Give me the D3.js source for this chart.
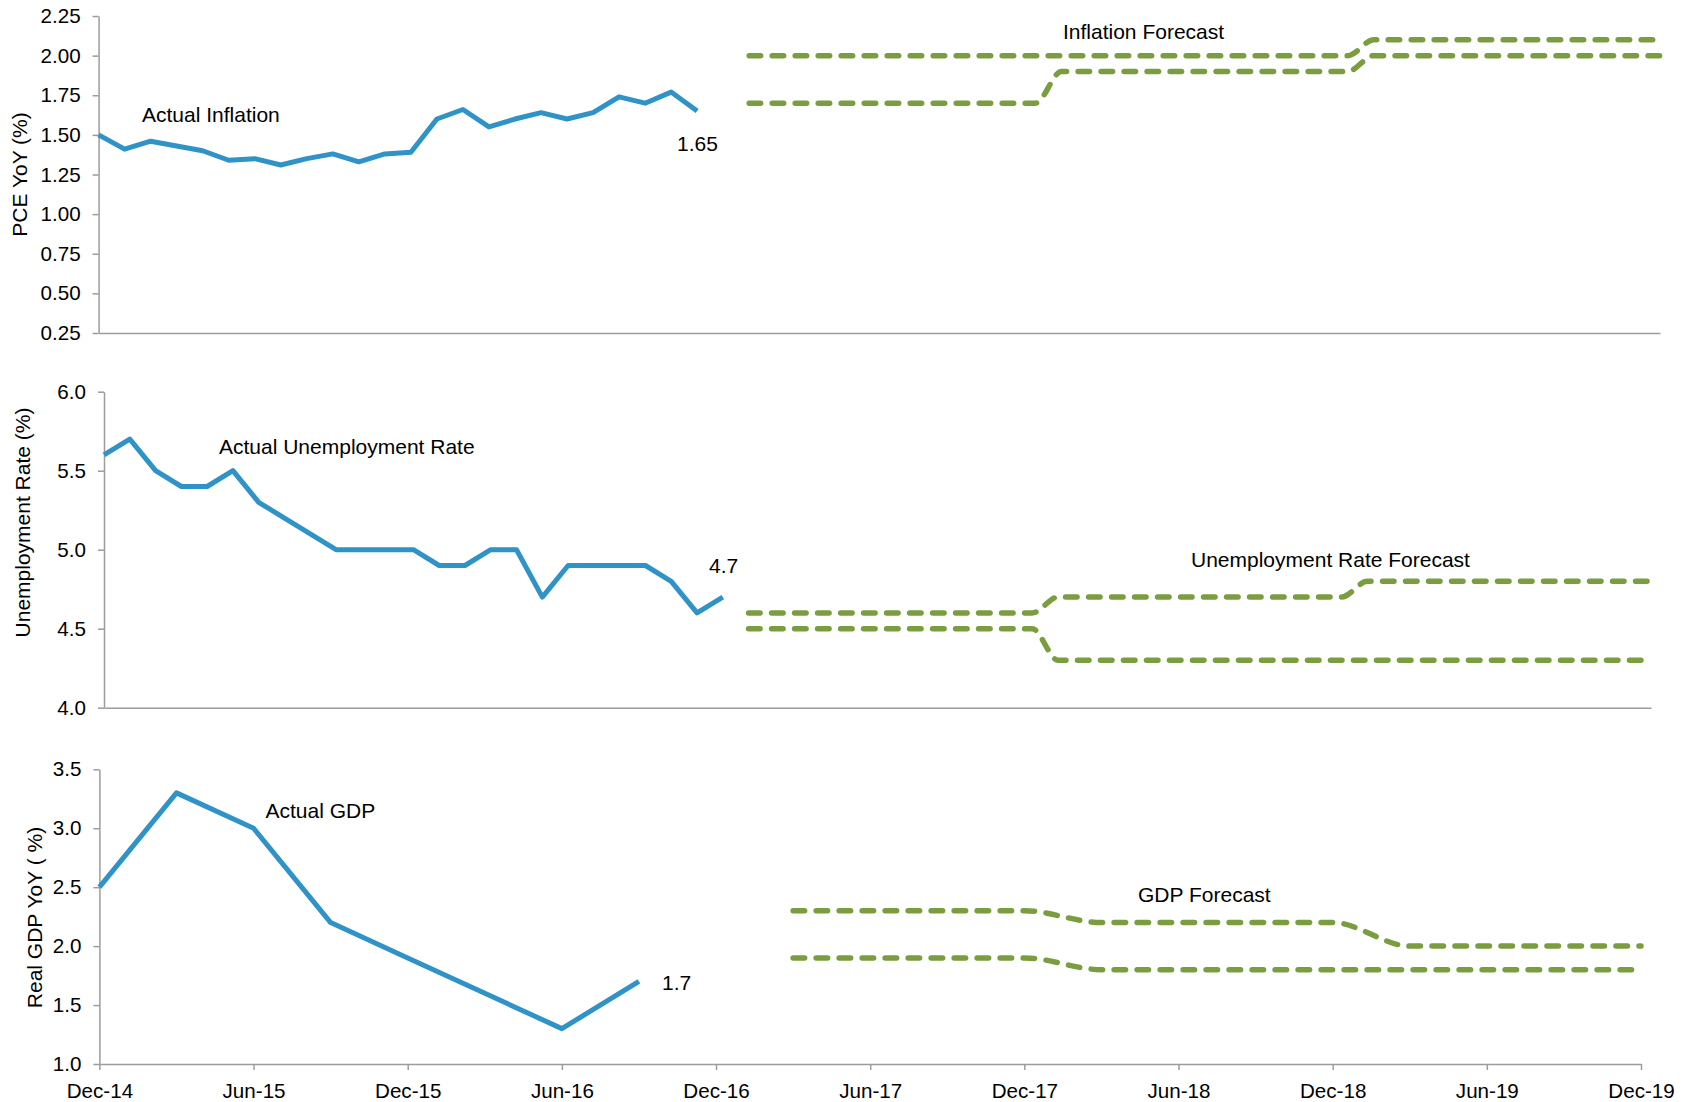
<!DOCTYPE html>
<html><head><meta charset="utf-8">
<script src="https://cdn.jsdelivr.net/npm/d3@7"></script>
<style>
body{margin:0;background:#fff;}
svg{display:block;font-family:"Liberation Sans",Arial,sans-serif;}
</style></head><body><svg id="c" width="1696" height="1102"></svg>
<script>
// ---------- DATA ----------
const inflationMonths = ["Dec-14","Jan-15","Feb-15","Mar-15","Apr-15","May-15","Jun-15","Jul-15","Aug-15","Sep-15","Oct-15","Nov-15",
  "Dec-15","Jan-16","Feb-16","Mar-16","Apr-16","May-16","Jun-16","Jul-16","Aug-16","Sep-16","Oct-16","Nov-16"];
const inflationActual = [1.50,1.41,1.46,1.43,1.40,1.34,1.35,1.31,1.35,1.38,1.33,1.38,
  1.39,1.60,1.66,1.55,1.60,1.64,1.60,1.64,1.74,1.70,1.77,1.65];

const unempMonths = ["Dec-14","Jan-15","Feb-15","Mar-15","Apr-15","May-15","Jun-15","Jul-15","Aug-15","Sep-15","Oct-15","Nov-15",
  "Dec-15","Jan-16","Feb-16","Mar-16","Apr-16","May-16","Jun-16","Jul-16","Aug-16","Sep-16","Oct-16","Nov-16","Dec-16"];
const unempActual = [5.6,5.7,5.5,5.4,5.4,5.5,5.3,5.2,5.1,5.0,5.0,5.0,
  5.0,4.9,4.9,5.0,5.0,4.7,4.9,4.9,4.9,4.9,4.8,4.6,4.7];

const gdpQuarters = ["Dec-14","Mar-15","Jun-15","Sep-15","Dec-15","Mar-16","Jun-16","Sep-16"];
const gdpActual = [2.5,3.3,3.0,2.2,1.9,1.6,1.3,1.7];

// forecasts: monthly from Jan-17 to Dec-19
const forecastMonthStart = "Jan-17";
const inflationForecastHigh = [2.0,2.0,2.0,2.0,2.0,2.0,2.0,2.0,2.0,2.0,2.0,2.0,
  2.0,2.0,2.0,2.0,2.0,2.0,2.0,2.0,2.0,2.0,2.0,2.0,
  2.1,2.1,2.1,2.1,2.1,2.1,2.1,2.1,2.1,2.1,2.1,2.1];
const inflationForecastLow = [1.7,1.7,1.7,1.7,1.7,1.7,1.7,1.7,1.7,1.7,1.7,1.7,
  1.9,1.9,1.9,1.9,1.9,1.9,1.9,1.9,1.9,1.9,1.9,1.9,
  2.0,2.0,2.0,2.0,2.0,2.0,2.0,2.0,2.0,2.0,2.0,2.0];
const unempForecastHigh = [4.6,4.6,4.6,4.6,4.6,4.6,4.6,4.6,4.6,4.6,4.6,4.6,
  4.7,4.7,4.7,4.7,4.7,4.7,4.7,4.7,4.7,4.7,4.7,4.7,
  4.8,4.8,4.8,4.8,4.8,4.8,4.8,4.8,4.8,4.8,4.8,4.8];
const unempForecastLow = [4.5,4.5,4.5,4.5,4.5,4.5,4.5,4.5,4.5,4.5,4.5,4.5,
  4.3,4.3,4.3,4.3,4.3,4.3,4.3,4.3,4.3,4.3,4.3,4.3,
  4.3,4.3,4.3,4.3,4.3,4.3,4.3,4.3,4.3,4.3,4.3,4.3];
// quarterly from Mar-17 to Dec-19
const forecastQuarterStart = "Mar-17";
const gdpForecastHigh = [2.3,2.3,2.3,2.3,2.2,2.2,2.2,2.2,2.0,2.0,2.0,2.0];
const gdpForecastLow  = [1.9,1.9,1.9,1.9,1.8,1.8,1.8,1.8,1.8,1.8,1.8,1.8];

const inflationTicks = [0.25,0.50,0.75,1.00,1.25,1.50,1.75,2.00,2.25];
const unempTicks = [4.0,4.5,5.0,5.5,6.0];
const gdpTicks = [1.0,1.5,2.0,2.5,3.0,3.5];
const xTickLabels = ["Dec-14","Jun-15","Dec-15","Jun-16","Dec-16","Jun-17","Dec-17","Jun-18","Dec-18","Jun-19","Dec-19"];
const xFirst = "Dec-14", xLast = "Dec-19";

// ---------- HELPERS ----------
const MON = ["Jan","Feb","Mar","Apr","May","Jun","Jul","Aug","Sep","Oct","Nov","Dec"];
function mi(s){ const p = s.split("-"); return (+p[1]-14)*12 + MON.indexOf(p[0]) - 11; }
function seq(start, vals, step){ const s = mi(start); return vals.map((v,i)=>({m:s+i*step, v})); }
function pairs(cats, vals){ return cats.map((c,i)=>({m:mi(c), v:vals[i]})); }

const BLUE = "#2F93C8", GREEN = "#7A9E3F", AXIS = "#9C9C9C";
const TICKFONT = 20.6, NOTEFONT = 21;

const svg = d3.select("#c");
svg.append("rect").attr("width",1696).attr("height",1102).attr("fill","#fff");

function panel(cfg){
  const x = d3.scaleLinear().domain([mi(xFirst), mi(xLast)]).range([cfg.x0, cfg.x1]);
  const y = d3.scaleLinear().domain([cfg.ticks[0], cfg.ticks[cfg.ticks.length-1]]).range([cfg.yBot, cfg.yTop]);
  const g = svg.append("g");

  // y axis
  const ya = g.append("g").attr("transform",`translate(${cfg.x0},0)`)
    .call(d3.axisLeft(y).tickValues(cfg.ticks).tickFormat(d3.format(cfg.fmt)).tickSize(6).tickSizeOuter(0).tickPadding(12));
  ya.selectAll("path,line").attr("stroke",AXIS).attr("stroke-width",1.5);
  ya.selectAll("text").attr("font-size",TICKFONT).attr("fill","#000").attr("font-family","Liberation Sans, Arial, sans-serif");

  // x axis
  const xa = g.append("g").attr("transform",`translate(0,${cfg.yBot})`);
  if (cfg.xLabels){
    xa.call(d3.axisBottom(x).tickValues(xTickLabels.map(mi)).tickFormat((d,i)=>xTickLabels[i]).tickSize(6).tickSizeOuter(0).tickPadding(13));
  } else {
    xa.call(d3.axisBottom(x).tickValues([]).tickSizeOuter(0));
  }
  xa.selectAll("path,line").attr("stroke",AXIS).attr("stroke-width",1.5);
  xa.selectAll("text").attr("font-size",TICKFONT).attr("fill","#000").attr("font-family","Liberation Sans, Arial, sans-serif");

  // y title
  g.append("text").attr("transform",`translate(${cfg.titleX},${cfg.titleY}) rotate(-90)`)
    .attr("text-anchor","middle").attr("font-size",21).text(cfg.title);

  // actual line
  const lin = d3.line().x(d=>x(d.m)).y(d=>y(d.v)).curve(d3.curveLinear);
  g.append("path").datum(cfg.actual).attr("d",lin).attr("fill","none")
    .attr("stroke",BLUE).attr("stroke-width",5).attr("stroke-linejoin","round");

  // forecast lines
  const smooth = d3.line().x(d=>x(d.m)).y(d=>y(d.v)).curve(d3.curveMonotoneX);
  cfg.forecasts.forEach(f=>{
    g.append("path").datum(f).attr("d",smooth).attr("fill","none")
      .attr("stroke",GREEN).attr("stroke-width",5.5).attr("stroke-dasharray","11.5,11.5")
      .attr("stroke-linecap","round");
  });

  // annotations
  cfg.notes.forEach(n=>{
    g.append("text").attr("x",n.x).attr("y",n.y).attr("font-size",NOTEFONT).text(n.t);
  });
  return {x,y};
}

const infAct = pairs(inflationMonths, inflationActual);
const unAct = pairs(unempMonths, unempActual);
const gdpAct = pairs(gdpQuarters, gdpActual);

panel({x0:98.6, x1:1660, yTop:16, yBot:333, ticks:inflationTicks, fmt:".2f",
  title:"PCE YoY (%)", titleX:27, titleY:174.5,
  actual: infAct,
  forecasts:[seq(forecastMonthStart, inflationForecastHigh, 1), seq(forecastMonthStart, inflationForecastLow, 1)],
  notes:[{x:142,y:122,t:"Actual Inflation"},{x:677,y:151,t:d3.format(".2f")(inflationActual[inflationActual.length-1])},{x:1063,y:39,t:"Inflation Forecast"}]
});
panel({x0:104, x1:1651, yTop:391.7, yBot:707.7, ticks:unempTicks, fmt:".1f",
  title:"Unemployment Rate (%)", titleX:29.5, titleY:522.5,
  actual: unAct,
  forecasts:[seq(forecastMonthStart, unempForecastHigh, 1), seq(forecastMonthStart, unempForecastLow, 1)],
  notes:[{x:219,y:454,t:"Actual Unemployment Rate"},{x:709,y:573,t:d3.format(".1f")(unempActual[unempActual.length-1])},{x:1191,y:567,t:"Unemployment Rate Forecast"}]
});
panel({x0:99.4, x1:1641, yTop:769.3, yBot:1064, ticks:gdpTicks, fmt:".1f", xLabels:true,
  title:"Real GDP YoY ( %)", titleX:42, titleY:917.5,
  actual: gdpAct,
  forecasts:[seq(forecastQuarterStart, gdpForecastHigh, 3), seq(forecastQuarterStart, gdpForecastLow, 3)],
  notes:[{x:265.5,y:818,t:"Actual GDP"},{x:662,y:990,t:d3.format(".1f")(gdpActual[gdpActual.length-1])},{x:1138,y:902,t:"GDP Forecast"}]
});
</script></body></html>
